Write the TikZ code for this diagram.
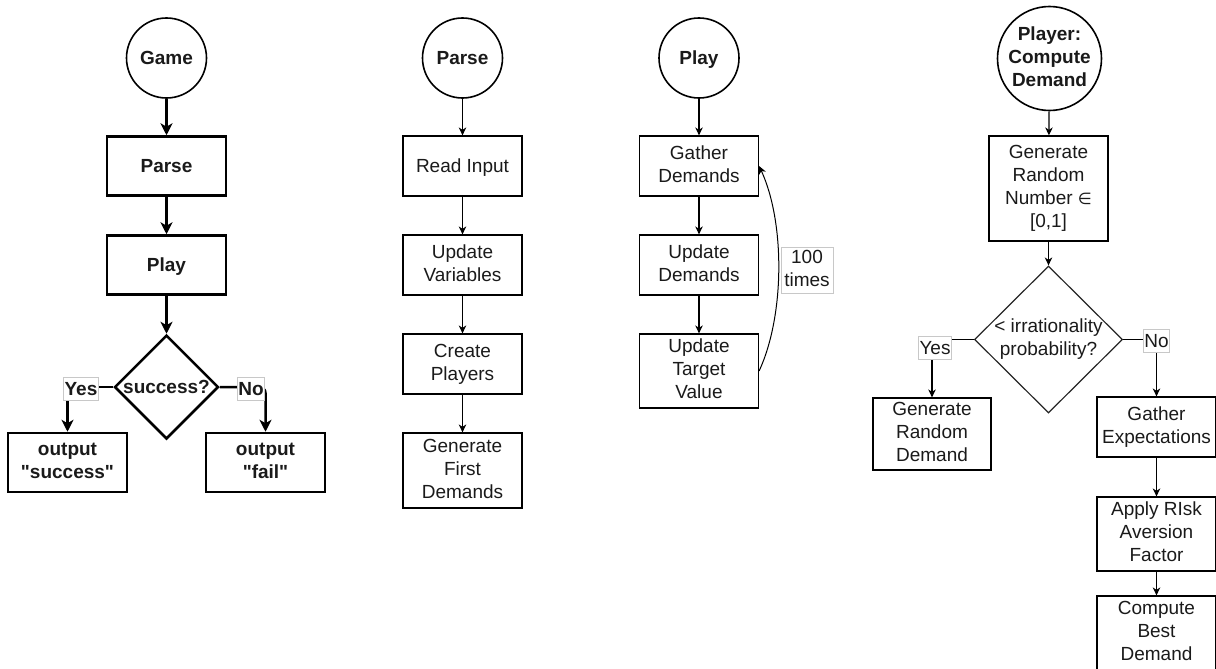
\documentclass[tikz,border=0pt]{standalone}
\usepackage{fontspec}
\setmainfont{Liberation Sans}[Ligatures=TeXOff]
\newfontfamily\dejavu{DejaVu Sans}
\usetikzlibrary{shapes.geometric,arrows.meta}
\definecolor{txt}{HTML}{1A1A1A}
\definecolor{lblborder}{HTML}{C8C8C8}
\newcommand\dioStrut{\rule[-4pt]{0pt}{21.2pt}}
\begin{document}
\begin{tikzpicture}[x=1pt,y=-1pt,
  base/.style={font=\fontsize{19}{23}\selectfont, align=center, inner sep=0pt, text=txt,
    execute at begin node=\dioStrut, execute at end node=\dioStrut},
  bbase/.style={base, font=\fontsize{19}{23}\selectfont\bfseries},
  boldbox/.style={bbase, draw=black, line width=2.5pt, rectangle, minimum width=119pt, minimum height=59pt},
  boldcirc/.style={bbase, draw=black, line width=1.6pt, circle, minimum size=80pt},
  boldtext/.style={bbase},
  boldshape/.style={draw=black, line width=2.5pt, diamond, minimum width=104pt, minimum height=104pt, inner sep=0pt},
  thinbox/.style={base, draw=black, line width=1.2pt, rectangle, minimum width=119pt, minimum height=60pt},
  thincirc/.style={bbase, draw=black, line width=1.6pt, circle, minimum size=80pt},
  thinshape/.style={draw=black!85, line width=1.2pt, diamond, minimum width=148pt, minimum height=147pt, inner sep=0pt},
  thinarr/.style={draw=black, line width=1.2pt, -{Stealth[length=8pt,width=7.5pt,inset=2.5pt]}},
  thickarr/.style={draw=black, line width=2.5pt, -{Stealth[length=12pt,width=12pt,inset=3.5pt]}},
  elab/.style={base, fill=white, draw=lblborder, line width=0.7pt, inner sep=1pt},
  belab/.style={bbase, fill=white, draw=lblborder, line width=0.7pt, inner sep=1pt}
]
\useasboundingbox (0,0) rectangle (1216,669);

% ---------- Column 1 : Game ----------
\node[boldcirc] (g1) at (166.5,58) {Game};
\node[boldbox] (g2) at (166.5,166) {Parse};
\node[boldbox] (g3) at (166.5,265) {Play};
\node[boldshape] (g4) at (166.5,387) {};
\node[boldtext] (g4t) at (166.5,387) {success?};
\node[boldbox] (g5) at (67.5,462.5) {output\\"success"};
\node[boldbox] (g6) at (265.5,462.5) {output\\"fail"};

\draw[thickarr] (g1) -- (g2);
\draw[thickarr] (g2) -- (g3);
\draw[thickarr] (g3) -- (g4);
\draw[thickarr] (g4.west) -| (g5.north);
\draw[thickarr, rounded corners=6pt] (g4.east) -| (g6.north);
\node[belab] (yes1) at (81,389) {Yes};
\node[belab] (no1) at (251,389) {No};

% ---------- Column 2 : Parse ----------
\node[thincirc] (p0) at (462.5,58) {Parse};
\node[thinbox] (p1) at (462.5,166) {Read Input};
\node[thinbox] (p2) at (462.5,265) {Update\\Variables};
\node[thinbox] (p3) at (462.5,364) {Create\\Players};
\node[thinbox, minimum height=75pt] (p4) at (462.5,470.5) {Generate\\First\\Demands};

\draw[thinarr] (p0) -- (p1);
\draw[thinarr] (p1) -- (p2);
\draw[thinarr] (p2) -- (p3);
\draw[thinarr] (p3) -- (p4);

% ---------- Column 3 : Play ----------
\node[thincirc] (q0) at (699,58) {Play};
\node[thinbox] (q1) at (699,166) {Gather\\Demands};
\node[thinbox] (q2) at (699,265) {Update\\Demands};
\node[thinbox, minimum height=74pt] (q3) at (699,371) {Update\\Target\\Value};

\draw[thinarr] (q0) -- (q1);
\draw[thinarr] (q1) -- (q2);
\draw[thinarr] (q2) -- (q3);
\draw[thinarr, line width=1pt] (q3.east) .. controls (785,315) and (785,222) .. (q1.east);
\node[elab, minimum width=52pt, minimum height=46pt] (times) at (807,270) {100\\times};

% ---------- Column 4 : Player ----------
\node[thincirc, minimum size=104pt] (r0) at (1049.5,58.5) {Player:\\Compute\\Demand};
\node[thinbox, minimum height=105pt] (r1) at (1048.5,188.5) {Generate\\Random\\Number {\dejavu\fontsize{16}{23}\selectfont ∈}\\{}[0,1]};
\node[thinshape] (r2) at (1048.5,339.5) {};
\node[base] (r2t) at (1048.5,339.5) {< irrationality\\probability?};
\node[thinbox, minimum width=118pt, minimum height=72pt] (r3) at (932,434) {Generate\\Random\\Demand};
\node[thinbox] (r4) at (1156.5,427) {Gather\\Expectations};
\node[thinbox, minimum height=74pt] (r5) at (1156.5,534) {Apply RIsk\\Aversion\\Factor};
\node[thinbox, minimum height=74pt] (r6) at (1156.5,633) {Compute\\Best\\Demand};

\draw[thinarr] (r0) -- (r1);
\draw[thinarr] (r1) -- (r2);
\draw[thinarr] (r2.west) -| (r3.north);
\draw[thinarr] (r2.east) -| (r4.north);
\draw[thinarr] (r4) -- (r5);
\draw[thinarr] (r5) -- (r6);
\node[elab] (yes2) at (935,348) {Yes};
\node[elab] (no2) at (1156.5,341) {No};
\end{tikzpicture}
\end{document}
